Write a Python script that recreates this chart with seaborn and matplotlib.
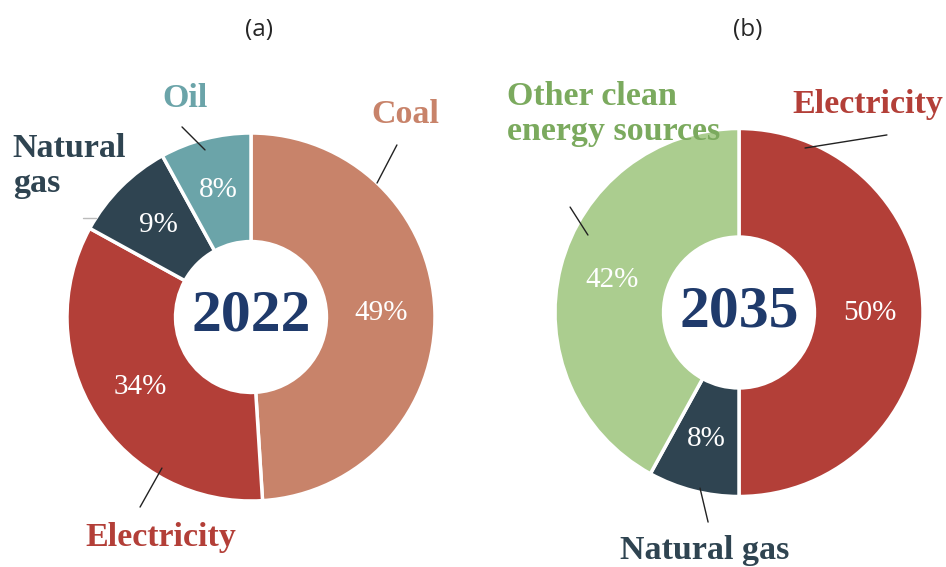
import matplotlib
matplotlib.use("Agg")
import matplotlib.pyplot as plt
import seaborn as sns

sns.set_theme(style="white")
plt.rcParams['font.family'] = ['DejaVu Sans']

# data
labels_2022 = ['Coal', 'Electricity', 'Natural gas', 'Oil']
shares_2022 = [49, 34, 9, 8]
labels_2035 = ['Electricity', 'Natural gas', 'Other clean energy sources']
shares_2035 = [50, 8, 42]

colors = {
    'Coal': '#C8836A',
    'Electricity': '#B33F38',
    'Natural gas': '#2F4451',
    'Oil': '#6BA4A9',
    'Other clean energy sources': '#ABCD8F',
}
text_colors = {
    'Coal': '#C8836A',
    'Electricity': '#B33F38',
    'Natural gas': '#2F4451',
    'Oil': '#6BA4A9',
    'Other clean energy sources': '#7BAA5E',
}

W, H, R = 946, 567, 184.0
fig = plt.figure(figsize=(W / 100, H / 100), dpi=100)


def donut(x0, x1, cx, cy, labels, shares, year):
    ax = fig.add_axes([x0 / W, 0, (x1 - x0) / W, 1])
    ax.pie(shares, colors=[colors[l] for l in labels], startangle=90,
           counterclock=False, radius=1, autopct='%d%%', pctdistance=0.71,
           wedgeprops=dict(width=0.59, edgecolor='white', linewidth=2.5),
           textprops=dict(color='white', fontsize=21, family='Liberation Serif'))
    # pixel-exact frame: 1 data unit = R pixels in both directions
    ax.set_aspect('auto')
    ax.set_xlim((x0 - cx) / R, (x1 - cx) / R)
    ax.set_ylim((cy - H) / R, cy / R)
    ax.axis('off')
    ax.text(0, 0, year, ha='center', va='center', fontsize=43, fontweight='bold',
            family='Liberation Serif', color='#1F3A6B')
    return ax


def callout(ax, text, color, xy_text, p0, p1, ha='center', va='center',
            lc='#222222', lw=1.0):
    ax.text(*xy_text, text, ha=ha, va=va, fontsize=24.5, fontweight='bold',
            family='Liberation Serif', color=color, linespacing=1.15)
    ax.plot([p0[0], p1[0]], [p0[1], p1[1]], color=lc, lw=lw)


# (a) 2022
ax1 = donut(0, 473, 251, 317, labels_2022, shares_2022, '2022')
ax1.text(0.045, 1.56, '(a)', ha='center', va='center', fontsize=17.5,
         family='Open Sans')
callout(ax1, 'Oil', text_colors['Oil'], (-0.36, 1.19), (-0.375, 1.033), (-0.25, 0.908))
callout(ax1, 'Coal', text_colors['Coal'], (0.84, 1.10), (0.793, 0.935), (0.685, 0.728))
callout(ax1, 'Natural\ngas', text_colors['Natural gas'], (-1.295, 0.82), (-0.913, 0.538),
        (-0.84, 0.538), ha='left', lc='#BBBBBB')
callout(ax1, 'Electricity', text_colors['Electricity'], (-0.49, -1.20), (-0.484, -0.821),
        (-0.603, -1.033))

# (b) 2035
ax2 = donut(473, 946, 739, 312.5, labels_2035, shares_2035, '2035')
ax2.text(0.045, 1.535, '(b)', ha='center', va='center', fontsize=17.5,
         family='Open Sans')
callout(ax2, 'Electricity', text_colors['Electricity'], (0.70, 1.13), (0.804, 0.965),
        (0.359, 0.894))
callout(ax2, 'Other clean\nenergy sources', text_colors['Other clean energy sources'],
        (-1.26, 1.08), (-0.918, 0.573), (-0.821, 0.421), ha='left')
callout(ax2, 'Natural gas', text_colors['Natural gas'], (-0.185, -1.337), (-0.212, -0.954),
        (-0.168, -1.139), va='baseline')

fig.savefig('out.png', dpi=100, facecolor='white')
